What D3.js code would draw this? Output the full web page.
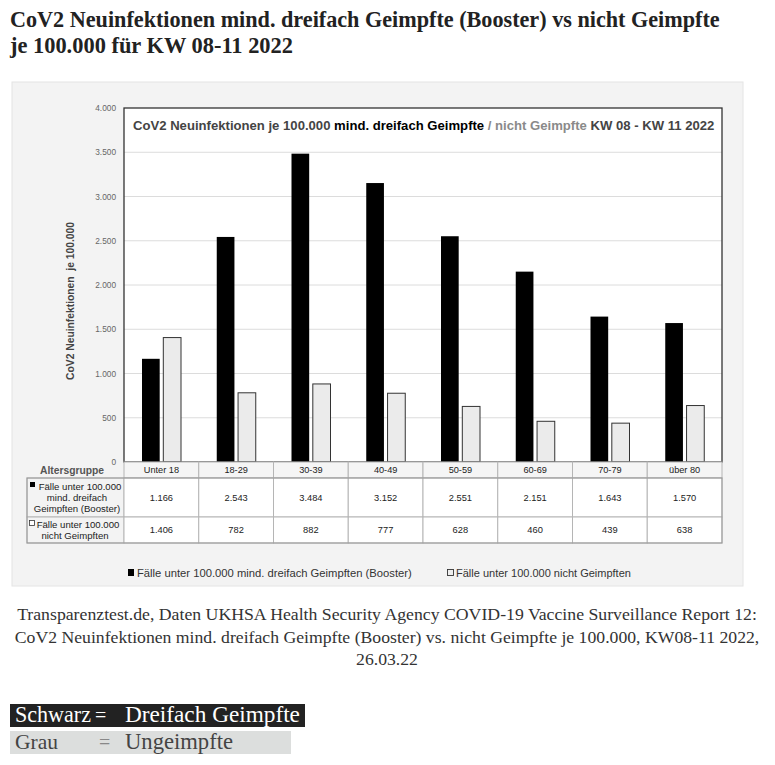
<!DOCTYPE html>
<html><head><meta charset="utf-8">
<script src="https://cdn.jsdelivr.net/npm/d3@7"></script>
<style>html,body{margin:0;padding:0;background:#fff;}svg{display:block;}</style>
</head><body>
<script>
// ---- data ----
const categories = ["Unter 18","18-29","30-39","40-49","50-59","60-69","70-79","über 80"];
const seriesKeys = ["booster","ungeimpft"];
const boosterValues = [1166, 2543, 3484, 3152, 2551, 2151, 1643, 1570];
const unvaccinatedValues = [1406, 782, 882, 777, 628, 460, 439, 638];
const yTicks = [0, 500, 1000, 1500, 2000, 2500, 3000, 3500, 4000];
const seriesLabels = ["Fälle unter 100.000 mind. dreifach Geimpften (Booster)", "Fälle unter 100.000 nicht Geimpften"];
const rowLabels = [["Fälle unter 100.000","mind. dreifach","Geimpften (Booster)"],["Fälle unter 100.000","nicht Geimpften"]];
const titleLines = ["CoV2 Neuinfektionen mind. dreifach Geimpfte (Booster) vs nicht Geimpfte","je 100.000 für KW 08-11 2022"];
const captionLines = ["Transparenztest.de, Daten UKHSA Health Security Agency COVID-19 Vaccine Surveillance Report 12:",
  "CoV2 Neuinfektionen mind. dreifach Geimpfte (Booster) vs. nicht Geimpfte je 100.000, KW08-11 2022,","26.03.22"];

const W = 775, H = 765;
const svg = d3.select("body").append("svg").attr("width", W).attr("height", H);
const serif = "'Liberation Serif','DejaVu Serif',serif";
const sans = "'Liberation Sans',Arial,sans-serif";

function fit(sel, target){
  const n = sel.node(); let fs = parseFloat(sel.attr("font-size"));
  const w = n.getComputedTextLength();
  const nf = fs*target/w;
  sel.attr("font-size", nf.toFixed(2));
  return nf;
}

// ---- page title ----
fit(svg.append("text").attr("x",10).attr("y",27).attr("font-family",serif).attr("font-weight","bold")
  .attr("font-size",20).attr("fill","#222").text(titleLines[0]), 710);
fit(svg.append("text").attr("x",10).attr("y",53).attr("font-family",serif).attr("font-weight","bold")
  .attr("font-size",20).attr("fill","#222").text(titleLines[1]), 283);

// ---- panel ----
svg.append("rect").attr("x",12).attr("y",82).attr("width",731).attr("height",504)
  .attr("fill","#f3f3f3").attr("stroke","#e4e4e4");

const x = d3.scaleBand().domain(categories).range([124, 722]);
const xSub = d3.scaleBand().domain(seriesKeys).range([18, 57]).paddingInner(0.17);
const y = d3.scaleLinear().domain([0, 4000]).range([462, 108]);

svg.append("rect").attr("x",124).attr("y",108).attr("width",598).attr("height",354).attr("fill","#fff");

// gridlines
svg.append("g").selectAll("line").data(yTicks.filter(d=>d>0 && d<4000)).join("line")
  .attr("x1",124).attr("x2",722).attr("y1",d=>y(d)).attr("y2",d=>y(d))
  .attr("stroke","#dcdcdc").attr("stroke-width",1);

// y axis labels
const yAxis = d3.axisLeft(y).tickValues(yTicks).tickSize(0).tickPadding(8)
  .tickFormat(d => d3.format(",")(d).replace(/,/g,"."));
const ya = svg.append("g").attr("transform","translate(124,0)").call(yAxis);
ya.select(".domain").remove();
ya.selectAll("text").attr("font-family",sans).attr("font-size",8.3).attr("fill","#666");

// y title
svg.append("text").attr("transform","translate(74,301) rotate(-90)").attr("text-anchor","middle")
  .attr("font-family",sans).attr("font-weight","bold").attr("font-size",10.3).attr("fill","#444")
  .attr("xml:space","preserve").text("CoV2 Neuinfektionen  je 100.000");

// bars
const rows = categories.map((c,i)=>({cat:c, booster:boosterValues[i], ungeimpft:unvaccinatedValues[i]}));
const bg = svg.append("g");
rows.forEach(r=>{
  seriesKeys.forEach(k=>{
    bg.append("rect").attr("x", x(r.cat)+xSub(k)).attr("width", xSub.bandwidth())
      .attr("y", y(r[k])).attr("height", y(0)-y(r[k]))
      .attr("fill", k==="booster" ? "#000" : "#ebebeb")
      .attr("stroke", k==="booster" ? "#000" : "#333").attr("stroke-width", k==="booster"?0:1);
  });
});

// plot border
svg.append("rect").attr("x",124).attr("y",108).attr("width",598).attr("height",354)
  .attr("fill","none").attr("stroke","#333").attr("stroke-width",1.3);

// inner title
const it = svg.append("text").attr("x",133).attr("y",130).attr("font-family",sans).attr("font-weight","bold")
  .attr("font-size",12).attr("xml:space","preserve");
it.append("tspan").attr("fill","#444").text("CoV2 Neuinfektionen je 100.000 ");
it.append("tspan").attr("fill","#000").text("mind. dreifach Geimpfte");
it.append("tspan").attr("fill","#8a8a8a").text(" / nicht Geimpfte");
it.append("tspan").attr("fill","#444").text(" KW 08 - KW 11 2022");
fit(it, 582);

// ---- table ----
const tb = svg.append("g");
const rowY = [462, 478, 517, 543];
tb.selectAll("rect.h").data(categories).join("rect")
  .attr("x",d=>x(d)).attr("y",rowY[0]).attr("width",x.bandwidth()).attr("height",rowY[1]-rowY[0])
  .attr("fill","#f5f5f5").attr("stroke","#b5b5b5");
[0,1].forEach(ri=>{
  tb.append("rect").attr("x",27).attr("y",rowY[ri+1]).attr("width",97).attr("height",rowY[ri+2]-rowY[ri+1])
    .attr("fill","#f3f3f3").attr("stroke","#b5b5b5");
  tb.selectAll("rect.r"+ri).data(categories).join("rect")
    .attr("x",d=>x(d)).attr("y",rowY[ri+1]).attr("width",x.bandwidth()).attr("height",rowY[ri+2]-rowY[ri+1])
    .attr("fill","#fff").attr("stroke","#b5b5b5");
});
tb.append("rect").attr("x",27).attr("y",rowY[1]).attr("width",695).attr("height",rowY[3]-rowY[1])
  .attr("fill","none").attr("stroke","#999");
tb.selectAll("text.h").data(categories).join("text")
  .attr("x",d=>x(d)+x.bandwidth()/2).attr("y",473).attr("text-anchor","middle")
  .attr("font-family",sans).attr("font-size",9.2).attr("fill","#222").text(d=>d);
tb.append("text").attr("x",72).attr("y",473.5).attr("text-anchor","middle").attr("font-family",sans)
  .attr("font-weight","bold").attr("font-size",10.3).attr("fill","#555").text("Altersgruppe");
const fmt = v => d3.format(",")(v).replace(/,/g,".");
tb.selectAll("text.v1").data(boosterValues).join("text")
  .attr("x",(d,i)=>x(categories[i])+x.bandwidth()/2).attr("y",501).attr("text-anchor","middle")
  .attr("font-family",sans).attr("font-size",9.3).attr("fill","#222").text(d=>fmt(d));
tb.selectAll("text.v2").data(unvaccinatedValues).join("text")
  .attr("x",(d,i)=>x(categories[i])+x.bandwidth()/2).attr("y",533).attr("text-anchor","middle")
  .attr("font-family",sans).attr("font-size",9.3).attr("fill","#222").text(d=>fmt(d));
const rl1Y = [490, 501, 512], rl2Y = [528, 539];
rowLabels[0].forEach((t,i)=>{
  tb.append("text").attr("x", i===0 ? 80 : 77).attr("y",rl1Y[i]).attr("text-anchor","middle")
    .attr("font-family",sans).attr("font-size",9.6).attr("fill","#222").text(t);
});
tb.append("rect").attr("x",30).attr("y",482).attr("width",5).attr("height",5).attr("fill","#000");
rowLabels[1].forEach((t,i)=>{
  tb.append("text").attr("x", i===0 ? 78 : 75).attr("y",rl2Y[i]).attr("text-anchor","middle")
    .attr("font-family",sans).attr("font-size",9.6).attr("fill","#222").text(t);
});
tb.append("rect").attr("x",29.5).attr("y",520.5).attr("width",5).attr("height",5).attr("fill","#fff").attr("stroke","#333").attr("stroke-width",0.8);

// ---- legend ----
const lg = svg.append("g");
lg.append("rect").attr("x",128).attr("y",569).attr("width",6).attr("height",7).attr("fill","#000");
fit(lg.append("text").attr("x",137).attr("y",577).attr("font-family",sans).attr("font-size",11).attr("fill","#333").text(seriesLabels[0]), 275);
lg.append("rect").attr("x",447.5).attr("y",569.5).attr("width",6).attr("height",6).attr("fill","#eee").attr("stroke","#333").attr("stroke-width",0.9);
lg.append("text").attr("x",456).attr("y",577).attr("font-family",sans).attr("font-size",11).attr("fill","#333").text(seriesLabels[1]);

// ---- caption ----
const capY = [620, 643, 665], capW = [740, 745, null];
let capFs = 15;
captionLines.forEach((t,i)=>{
  const s = svg.append("text").attr("x",387).attr("y",capY[i]).attr("text-anchor","middle")
    .attr("font-family",serif).attr("font-size",capFs).attr("fill","#333").text(t);
  if (capW[i]) capFs = fit(s, capW[i]);
});

// ---- boxes ----
svg.append("rect").attr("x",10).attr("y",704).attr("width",295).attr("height",23).attr("fill","#222");
svg.append("rect").attr("x",10).attr("y",731).attr("width",281).attr("height",23).attr("fill","#dcdedd");
function boxText(xp, yp, t, w, col){
  const s = svg.append("text").attr("x",xp).attr("y",yp).attr("font-family",serif).attr("font-size",20).attr("fill",col).text(t);
  if (w) fit(s, w);
  return s;
}
boxText(15, 722, "Schwarz", 76, "#fff");
boxText(95, 722, "=", null, "#fff");
boxText(125, 722, "Dreifach Geimpfte", 175, "#fff");
boxText(15, 749, "Grau", 43, "#444");
boxText(99, 749, "=", null, "#888");
boxText(125, 749, "Ungeimpfte", 108, "#444");
</script>
</body></html>
